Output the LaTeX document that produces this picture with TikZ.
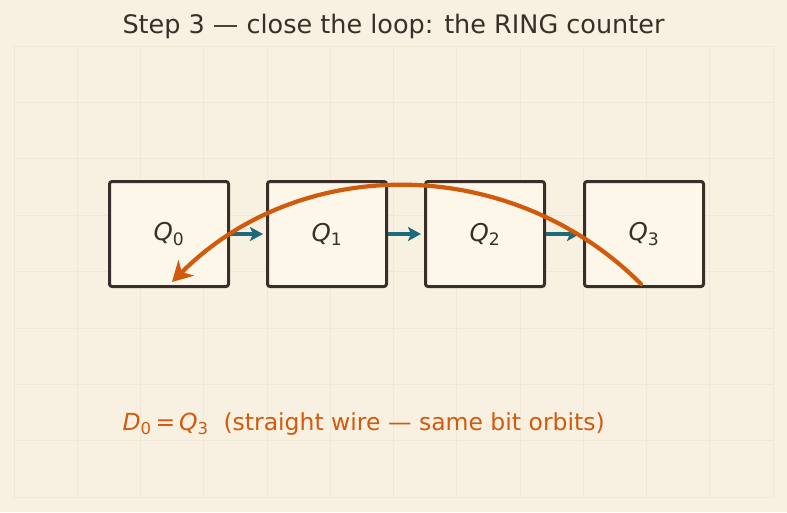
\documentclass[tikz,border=0pt]{standalone}
\usepackage{fontspec}
\setmainfont{DejaVu Sans}
\usepackage{tikz}
\usetikzlibrary{arrows.meta}

\definecolor{paper}{HTML}{F8F1E2}
\definecolor{boxfill}{HTML}{FDF7EA}
\definecolor{ink}{HTML}{3A2F28}
\definecolor{wire}{HTML}{1D6A78}
\definecolor{loop}{HTML}{D15A0C}
\definecolor{gridc}{HTML}{F0E8D7}

\newcommand{\qv}[2]{\textit{#1}\textsubscript{#2}}

\tikzset{
  reg/.style={draw=ink,fill=boxfill,line width=3pt,rounded corners=2.5pt,
    minimum width=119pt,minimum height=105pt,inner sep=0pt,
    font=\fontsize{24.5}{28}\selectfont,text=ink},
  shiftarrow/.style={draw=wire,line width=3.4pt,-{Stealth[length=13pt,width=14pt,inset=3pt]}},
  feedback/.style={draw=loop,line width=4.2pt,line cap=round,
    -{Stealth[length=20pt,width=22pt,inset=6pt]}}
}

\begin{document}
\begin{tikzpicture}[x=1pt,y=-1pt]
        % Define the page and the faint grid
        \fill[paper] (0,0) rectangle (787,512);
        \useasboundingbox (0,0) rectangle (787,512);
        \foreach \i in {0,...,12}
          \draw[gridc,line width=0.6pt] (14+63.25*\i,46) -- (14+63.25*\i,497);
        \foreach \j in {0,...,8}
          \draw[gridc,line width=0.6pt] (14,46+56.375*\j) -- (773,46+56.375*\j);
        \node[text=ink,font=\fontsize{25.5}{30}\selectfont] (title) at (393.5,26) {Step 3 — close the loop: the RING counter};
        % Define the register nodes
        \node[reg] (q0) at (169,234) {\qv{Q}{0}};
        \node[reg] (q1) at (327,234) {\qv{Q}{1}};
        \node[reg] (q2) at (485,234) {\qv{Q}{2}};
        \node[reg] (q3) at (644,234) {\qv{Q}{3}};
        % Connect the nodes for shifting
        \draw[shiftarrow,shorten >=3pt] (q0.east) -- (q1.west);
        \draw[shiftarrow,shorten >=3pt] (q1.east) -- (q2.west);
        \draw[shiftarrow,shorten >=3pt] (q2.east) -- (q3.west);
        % Close the loop
        \coordinate (tap) at (641,284);
        \coordinate (din) at (172,282);
        \draw[feedback] (tap) .. controls (511.5,154.5) and (301.5,152.5) .. (din);
        \node[text=loop,font=\fontsize{23.5}{28}\selectfont,anchor=west] (note) at (119,424)
          {\qv{D}{0}\,=\,\qv{Q}{3}\ \ (straight wire — same bit orbits)};
    \end{tikzpicture}
\end{document}
